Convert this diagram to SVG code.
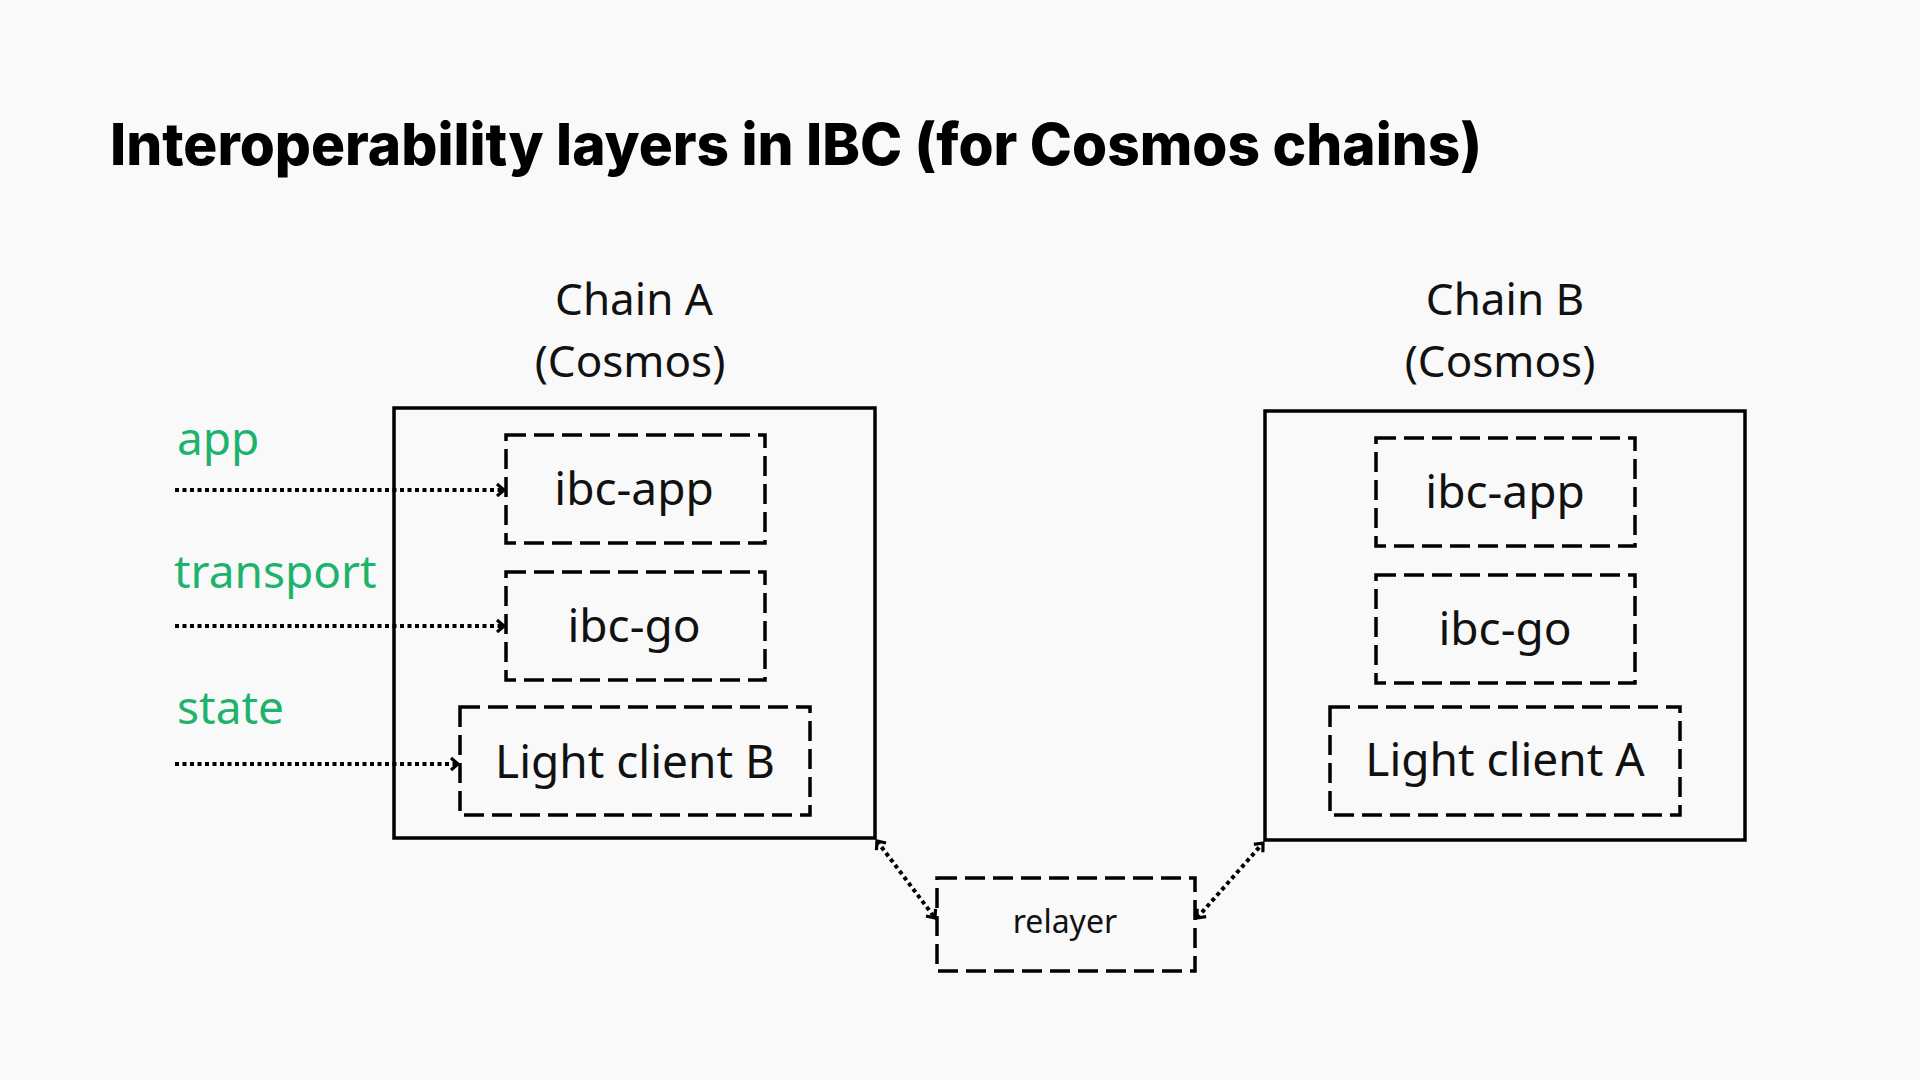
<svg xmlns="http://www.w3.org/2000/svg" width="1920" height="1080" viewBox="0 0 1920 1080">
<defs>
<style>
.t{font-family:"Noto Sans","Open Sans","Liberation Sans",sans-serif;fill:#111;}
.box{fill:none;stroke:#000;stroke-width:3.5;}
.dbox{fill:none;stroke:#000;stroke-width:3.5;stroke-dasharray:20 8;}
.dot{fill:none;stroke:#000;stroke-width:4;stroke-dasharray:4 3.5;}
.g{font-family:"Noto Sans","Open Sans","Liberation Sans",sans-serif;fill:#1db36d;font-size:46px;}
</style>
<marker id="ah" viewBox="0 0 14 16" refX="11" refY="8" markerWidth="14" markerHeight="16" markerUnits="userSpaceOnUse" orient="auto-start-reverse">
<path d="M4,2 L11,8 L4,14" fill="none" stroke="#000" stroke-width="3.2"/>
</marker>
</defs>
<rect width="1920" height="1080" fill="#f9f9f9"/>
<text x="110" y="165" font-family="Inter,'Liberation Sans',sans-serif" font-weight="800" font-size="58" fill="#000" textLength="1372" lengthAdjust="spacingAndGlyphs">Interoperability layers in IBC (for Cosmos chains)</text>

<g id="chainA">
<text class="t" x="634" y="315" font-size="44" text-anchor="middle">Chain A</text>
<text class="t" x="630" y="377" font-size="44" text-anchor="middle">(Cosmos)</text>
<rect class="box" x="394" y="408" width="481" height="430"/>
</g>
<g id="ibcAppA">
<rect class="dbox" x="506" y="435" width="259" height="108"/>
<text class="t" x="634" y="505" font-size="46" text-anchor="middle">ibc-app</text>
</g>
<g id="ibcGoA">
<rect class="dbox" x="506" y="572" width="259" height="108"/>
<text class="t" x="634" y="642" font-size="46" text-anchor="middle">ibc-go</text>
</g>
<g id="lightClientB">
<rect class="dbox" x="460" y="707" width="350" height="108"/>
<text class="t" x="635" y="778" font-size="46" text-anchor="middle">Light client B</text>
</g>

<g id="chainB">
<text class="t" x="1505" y="315" font-size="44" text-anchor="middle">Chain B</text>
<text class="t" x="1500" y="377" font-size="44" text-anchor="middle">(Cosmos)</text>
<rect class="box" x="1265" y="411" width="480" height="429"/>
</g>
<g id="ibcAppB">
<rect class="dbox" x="1376" y="438" width="259" height="108"/>
<text class="t" x="1505" y="508" font-size="46" text-anchor="middle">ibc-app</text>
</g>
<g id="ibcGoB">
<rect class="dbox" x="1376" y="575" width="259" height="108"/>
<text class="t" x="1505" y="645" font-size="46" text-anchor="middle">ibc-go</text>
</g>
<g id="lightClientA">
<rect class="dbox" x="1330" y="707" width="350" height="108"/>
<text class="t" x="1505" y="776" font-size="46" text-anchor="middle">Light client A</text>
</g>

<g id="relayer">
<rect class="dbox" x="937" y="878" width="258" height="93"/>
<text class="t" x="1065" y="933" font-size="32" text-anchor="middle">relayer</text>
</g>

<g id="labels">
<text class="g" x="177" y="455">app</text>
<text class="g" x="174" y="588">transport</text>
<text class="g" x="177" y="724">state</text>
</g>

<g id="connectors">
<line class="dot" x1="175" y1="490" x2="504" y2="490" marker-end="url(#ah)"/>
<line class="dot" x1="175" y1="626" x2="504" y2="626" marker-end="url(#ah)"/>
<line class="dot" x1="175" y1="764" x2="458" y2="764" marker-end="url(#ah)"/>
<line class="dot" x1="877" y1="841" x2="935" y2="918" marker-start="url(#ah)" marker-end="url(#ah)"/>
<line class="dot" x1="1197" y1="918" x2="1263" y2="843" marker-start="url(#ah)" marker-end="url(#ah)"/>
</g>
</svg>
